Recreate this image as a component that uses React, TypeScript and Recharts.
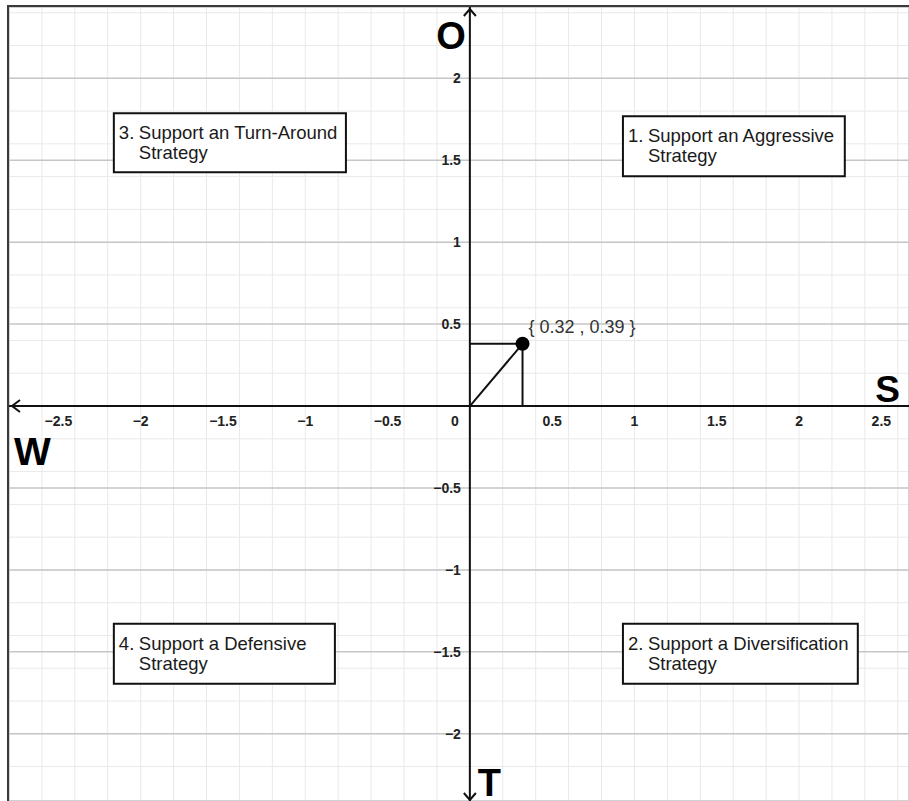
import {
  ScatterChart,
  Scatter,
  XAxis,
  YAxis,
  CartesianGrid,
  ReferenceLine,
  ReferenceArea,
  ReferenceDot,
} from "recharts";

// SWOT / SPACE matrix result
const xDomain = [-2.8, 2.668];
const yDomain = [-2.41, 2.435];

const xTicks = [-2.5, -2, -1.5, -1, -0.5, 0.5, 1, 1.5, 2, 2.5];
const yTicks = [-2, -1.5, -1, -0.5, 0.5, 1, 1.5, 2];

const strategyPoint = [{ x: 0.32, y: 0.38 }];
const pointLabel = "{ 0.32 , 0.39 }";

const axisNames = { up: "O", down: "T", left: "W", right: "S" };

const quadrants = [
  { num: "3.", line1: "Support an Turn-Around", line2: "Strategy", x1: -2.163, x2: -0.753, y1: 1.427, y2: 1.787 },
  { num: "1.", line1: "Support an Aggressive", line2: "Strategy", x1: 0.93, x2: 2.278, y1: 1.402, y2: 1.768 },
  { num: "4.", line1: "Support a Defensive", line2: "Strategy", x1: -2.163, x2: -0.82, y1: -1.695, y2: -1.329 },
  { num: "2.", line1: "Support a Diversification", line2: "Strategy", x1: 0.93, x2: 2.357, y1: -1.695, y2: -1.329 },
];

// grid helpers (0.1 minor, 0.5 major)
const steps = (from: number, to: number, step: number) => {
  const out: number[] = [];
  for (let i = Math.round(from / step); i * step <= to + 1e-9; i++) {
    out.push(Math.round(i * step * 10) / 10);
  }
  return out;
};
const minorX = steps(-2.8, 2.66, 0.1);
const minorY = steps(-2.4, 2.43, 0.1);
const majorX = steps(-2.5, 2.66, 0.5);
const majorY = steps(-2.0, 2.43, 0.5);

const FONT = '"Liberation Sans", Arial, sans-serif';
const fmt = (v: number) => String(v).replace("-", "\u2212");

function QuadrantText({ viewBox, q }: any) {
  if (!viewBox) return null;
  const { x, y } = viewBox;
  return (
    <g fontFamily={FONT} fontSize={18.5} fill="#1a1a1a">
      <text x={x + 5} y={y + 26}>{q.num}</text>
      <text x={x + 25} y={y + 26}>{q.line1}</text>
      <text x={x + 25} y={y + 46}>{q.line2}</text>
    </g>
  );
}

export default function App() {
  return (
    <div style={{ position: "absolute", left: 0, top: 0, width: 909, height: 801, background: "#fff" }}>
      <div
        style={{
          position: "absolute",
          left: 7,
          top: 5,
          borderLeft: "2px solid #3a3a3a",
          borderTop: "2px solid #3a3a3a",
          width: 900,
          height: 794,
        }}
      >
        <ScatterChart width={900} height={794} margin={{ top: 0, right: 0, bottom: 0, left: 0 }}>
          <XAxis type="number" dataKey="x" domain={xDomain} ticks={minorX} allowDataOverflow hide />
          <YAxis type="number" dataKey="y" domain={yDomain} ticks={minorY} allowDataOverflow hide />
          <XAxis xAxisId="major" type="number" domain={xDomain} ticks={majorX} allowDataOverflow hide />
          <YAxis yAxisId="major" type="number" domain={yDomain} ticks={majorY} allowDataOverflow hide />
          <CartesianGrid stroke="#e9e9e9" strokeWidth={1} />
          <CartesianGrid xAxisId="major" yAxisId="major" stroke="#c6c6c6" strokeWidth={1.5} />

          {quadrants.map((q) => (
            <ReferenceArea
              key={q.num}
              x1={q.x1}
              x2={q.x2}
              y1={q.y1}
              y2={q.y2}
              fill="#fff"
              fillOpacity={1}
              stroke="#111"
              strokeWidth={2}
              label={(props: any) => <QuadrantText viewBox={props.viewBox} q={q} />}
            />
          ))}

          {/* axes with arrows and letters */}
          <ReferenceLine
            y={0}
            stroke="#111"
            strokeWidth={2}
            label={(props: any) => {
              const vb = props.viewBox;
              if (!vb) return null;
              return (
                <g>
                  <polyline
                    points={`${vb.x + 11},${vb.y - 6} ${vb.x + 3},${vb.y} ${vb.x + 11},${vb.y + 6}`}
                    fill="none"
                    stroke="#111"
                    strokeWidth={2}
                  />
                  <text x={vb.x + 5} y={vb.y + 59} fontFamily={FONT} fontWeight="bold" fontSize={39} fill="#000">
                    {axisNames.left}
                  </text>
                  <text
                    x={vb.x + vb.width - 9}
                    y={vb.y - 4}
                    textAnchor="end"
                    fontFamily={FONT}
                    fontWeight="bold"
                    fontSize={37}
                    fill="#000"
                  >
                    {axisNames.right}
                  </text>
                </g>
              );
            }}
          />
          <ReferenceLine
            x={0}
            stroke="#111"
            strokeWidth={2}
            label={(props: any) => {
              const vb = props.viewBox;
              if (!vb) return null;
              const bottom = vb.y + vb.height;
              return (
                <g>
                  <polyline
                    points={`${vb.x - 6},${vb.y + 9} ${vb.x},${vb.y + 2} ${vb.x + 6},${vb.y + 9}`}
                    fill="none"
                    stroke="#111"
                    strokeWidth={2}
                  />
                  <polyline
                    points={`${vb.x - 6},${bottom - 8} ${vb.x},${bottom - 1} ${vb.x + 6},${bottom - 8}`}
                    fill="none"
                    stroke="#111"
                    strokeWidth={2}
                  />
                  <text
                    x={vb.x - 4}
                    y={vb.y + 42}
                    textAnchor="end"
                    fontFamily={FONT}
                    fontWeight="bold"
                    fontSize={38}
                    fill="#000"
                  >
                    {axisNames.up}
                  </text>
                  <text x={vb.x + 8} y={bottom - 5} fontFamily={FONT} fontWeight="bold" fontSize={38} fill="#000">
                    {axisNames.down}
                  </text>
                </g>
              );
            }}
          />

          {/* tick labels on the axes */}
          {xTicks.map((v) => (
            <ReferenceDot
              key={`xt${v}`}
              x={v}
              y={0}
              r={0}
              shape={(p: any) => (
                <text x={p.cx} y={p.cy + 20} textAnchor="middle" fontFamily={FONT} fontWeight="bold" fontSize={14} fill="#222">
                  {fmt(v)}
                </text>
              )}
            />
          ))}
          {yTicks.map((v) => (
            <ReferenceDot
              key={`yt${v}`}
              x={0}
              y={v}
              r={0}
              shape={(p: any) => (
                <text x={p.cx - 9} y={p.cy + 5} textAnchor="end" fontFamily={FONT} fontWeight="bold" fontSize={14} fill="#222">
                  {fmt(v)}
                </text>
              )}
            />
          ))}
          <ReferenceDot
            x={0}
            y={0}
            r={0}
            shape={(p: any) => (
              <text x={p.cx - 15} y={p.cy + 20} textAnchor="middle" fontFamily={FONT} fontWeight="bold" fontSize={14} fill="#222">
                0
              </text>
            )}
          />

          {/* projection lines to the point */}
          <ReferenceLine
            segment={[{ x: 0, y: 0 }, { x: strategyPoint[0].x, y: strategyPoint[0].y }]}
            stroke="#111"
            strokeWidth={2}
          />
          <ReferenceLine
            segment={[{ x: 0, y: strategyPoint[0].y }, { x: strategyPoint[0].x, y: strategyPoint[0].y }]}
            stroke="#111"
            strokeWidth={2}
          />
          <ReferenceLine
            segment={[{ x: strategyPoint[0].x, y: 0 }, { x: strategyPoint[0].x, y: strategyPoint[0].y }]}
            stroke="#111"
            strokeWidth={2}
          />

          <Scatter
            data={strategyPoint}
            isAnimationActive={false}
            shape={(p: any) => (
              <g>
                <circle cx={p.cx} cy={p.cy} r={7} fill="#000" />
                <text x={p.cx + 6} y={p.cy - 11} fontFamily={FONT} fontSize={18} fill="#333">
                  {pointLabel}
                </text>
              </g>
            )}
          />
        </ScatterChart>
      </div>
    </div>
  );
}
